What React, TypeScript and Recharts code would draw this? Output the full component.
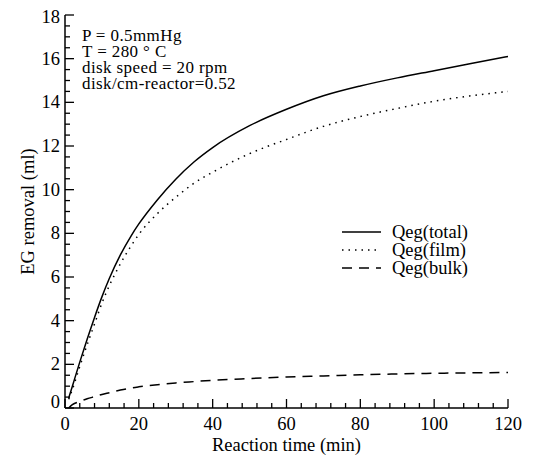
import { LineChart, Line, XAxis, YAxis, Legend } from "recharts";

const times = [1, 2, 4, 6, 8, 10, 12, 15, 18, 20, 25, 30, 35, 40, 50, 60, 70, 80, 90, 100, 110, 120];
const qegTotal = [0.45, 1.0, 2.1, 3.15, 4.15, 5.09, 5.93, 7.01, 7.91, 8.43, 9.53, 10.48, 11.28, 11.93, 12.93, 13.68, 14.3, 14.75, 15.12, 15.45, 15.78, 16.1];
const qegFilm = [0.4, 0.85, 1.9, 2.9, 3.85, 4.8, 5.6, 6.6, 7.45, 7.95, 8.9, 9.65, 10.3, 10.8, 11.65, 12.3, 12.9, 13.35, 13.72, 14.05, 14.3, 14.5];
const qegBulk = [0, 0.15, 0.3, 0.42, 0.52, 0.62, 0.7, 0.82, 0.92, 0.97, 1.07, 1.15, 1.21, 1.27, 1.35, 1.42, 1.47, 1.52, 1.56, 1.59, 1.61, 1.63];

const xMajor = [0, 20, 40, 60, 80, 100, 120];
const xTicks = [0, 4, 8, 12, 16, 20, 24, 28, 32, 36, 40, 44, 48, 52, 56, 60, 64, 68, 72, 76, 80, 84, 88, 92, 96, 100, 104, 108, 112, 116, 120];
const yMajor = [0, 2, 4, 6, 8, 10, 12, 14, 16, 18];
const yTicks = [0, 0.5, 1, 1.5, 2, 2.5, 3, 3.5, 4, 4.5, 5, 5.5, 6, 6.5, 7, 7.5, 8, 8.5, 9, 9.5, 10, 10.5, 11, 11.5, 12, 12.5, 13, 13.5, 14, 14.5, 15, 15.5, 16, 16.5, 17, 17.5, 18];

const notes = ["P = 0.5mmHg", "T = 280 ° C", "disk speed = 20 rpm", "disk/cm-reactor=0.52"];

const series = [
  { key: "total", name: "Qeg(total)", dash: undefined },
  { key: "film", name: "Qeg(film)", dash: "1.5 5" },
  { key: "bulk", name: "Qeg(bulk)", dash: "10 7" },
];

const data = times.map((t, i) => ({ t, total: qegTotal[i], film: qegFilm[i], bulk: qegBulk[i] }));

const FONT = "'Liberation Serif', 'Times New Roman', serif";

const BottomTick = (props: any) => {
  const { x, y, payload } = props;
  const major = xMajor.includes(payload.value);
  return (
    <g>
      <line x1={x} y1={y} x2={x} y2={y - (major ? 9 : 5)} stroke="#000" strokeWidth={1.3} />
      {major && (
        <text x={x} y={y + 22} textAnchor="middle" fontSize={18.5} fontFamily={FONT} fill="#000">
          {payload.value}
        </text>
      )}
    </g>
  );
};

const TopTick = (props: any) => {
  const { x, y, payload } = props;
  const major = xMajor.includes(payload.value);
  return <line x1={x} y1={y} x2={x} y2={y + (major ? 9 : 5)} stroke="#000" strokeWidth={1.3} />;
};

const LeftTick = (props: any) => {
  const { x, y, payload } = props;
  const major = yMajor.includes(payload.value);
  let dy = 6;
  if (payload.value === 18) dy = 8;
  if (payload.value === 0) dy = 0;
  return (
    <g>
      <line x1={x} y1={y} x2={x + (major ? 9 : 5)} y2={y} stroke="#000" strokeWidth={1.3} />
      {major && (
        <text x={x - 5} y={y + dy} textAnchor="end" fontSize={18.5} fontFamily={FONT} fill="#000">
          {payload.value}
        </text>
      )}
    </g>
  );
};

const RightTick = (props: any) => {
  const { x, y, payload } = props;
  const major = yMajor.includes(payload.value);
  return <line x1={x} y1={y} x2={x - (major ? 9 : 5)} y2={y} stroke="#000" strokeWidth={1.3} />;
};

const LegendBox = () => (
  <svg width={150} height={60}>
    {series.map((s, i) => (
      <g key={s.key}>
        <line x1={2} x2={41} y1={10 + i * 18} y2={10 + i * 18} stroke="#000" strokeWidth={1.5} strokeDasharray={s.dash} />
        <text x={52} y={16 + i * 18} fontSize={18.5} fontFamily={FONT} fill="#000">
          {s.name}
        </text>
      </g>
    ))}
  </svg>
);

export default function App() {
  return (
    <div style={{ position: "absolute", left: 0, top: 0, width: 554, height: 456, background: "#fff" }}>
      <LineChart width={554} height={456} data={data} margin={{ top: 15, right: 46, bottom: 0, left: 0 }}>
        <XAxis
          xAxisId="bottom"
          dataKey="t"
          type="number"
          domain={[0, 120]}
          ticks={xTicks}
          interval={0}
          height={48}
          tickSize={0}
          tickMargin={0}
          tickLine={false}
          tick={<BottomTick />}
          axisLine={{ stroke: "#000", strokeWidth: 1.5 }}
          label={{ value: "Reaction time (min)", position: "insideBottom", offset: 5, fill: "#000", fontSize: 18.5, fontFamily: FONT }}
        />
        <XAxis
          xAxisId="top"
          orientation="top"
          dataKey="t"
          type="number"
          domain={[0, 120]}
          ticks={xTicks}
          interval={0}
          height={0}
          tickSize={0}
          tickMargin={0}
          tickLine={false}
          tick={<TopTick />}
          axisLine={{ stroke: "#000", strokeWidth: 1.5 }}
        />
        <YAxis
          yAxisId="left"
          type="number"
          domain={[0, 18]}
          ticks={yTicks}
          interval={0}
          width={65}
          tickSize={0}
          tickMargin={0}
          tickLine={false}
          tick={<LeftTick />}
          axisLine={{ stroke: "#000", strokeWidth: 1.5 }}
          label={{ value: "EG removal (ml)", angle: -90, position: "insideLeft", offset: 27, fill: "#000", fontSize: 18.5, fontFamily: FONT, style: { textAnchor: "middle" } }}
        />
        <YAxis
          yAxisId="right"
          orientation="right"
          type="number"
          domain={[0, 18]}
          ticks={yTicks}
          interval={0}
          width={0}
          tickSize={0}
          tickMargin={0}
          tickLine={false}
          tick={<RightTick />}
          axisLine={{ stroke: "#000", strokeWidth: 1.5 }}
        />
        <Legend
          layout="horizontal"
          verticalAlign="middle"
          align="center"
          content={<LegendBox />}
          wrapperStyle={{ left: 340, top: 222, width: 150, height: 60 }}
        />
        {series.map((s) => (
          <Line
            key={s.key}
            xAxisId="bottom"
            yAxisId="left"
            type="monotone"
            dataKey={s.key}
            name={s.name}
            stroke="#000"
            strokeWidth={1.5}
            strokeDasharray={s.dash}
            dot={false}
            isAnimationActive={false}
          />
        ))}
      </LineChart>
      <div
        style={{
          position: "absolute",
          left: 82,
          top: 28,
          fontFamily: FONT,
          fontSize: 17,
          letterSpacing: "0.4px",
          lineHeight: "16px",
          color: "#000",
          whiteSpace: "nowrap",
        }}
      >
        {notes.map((n) => (
          <div key={n}>{n}</div>
        ))}
      </div>
    </div>
  );
}
